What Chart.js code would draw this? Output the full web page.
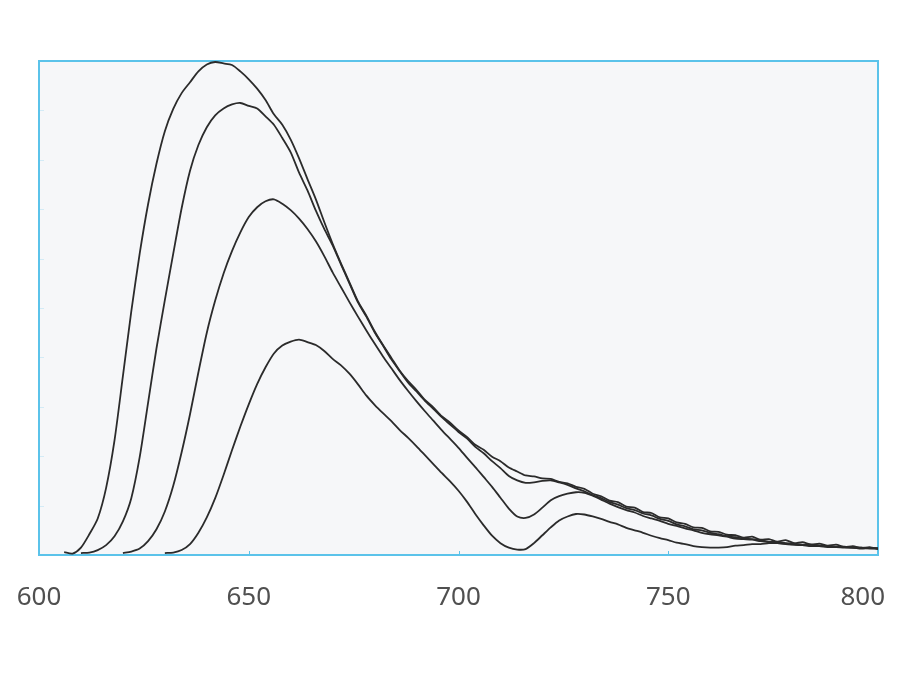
<!DOCTYPE html>
<html>
<head>
<meta charset="utf-8">
<script src="https://cdn.jsdelivr.net/npm/chart.js@4.4.1/dist/chart.umd.min.js"></script>
<style>
  html, body { margin: 0; background: #ffffff; }
</style>
</head>
<body>
<canvas id="spectraChart" width="900" height="700"></canvas>
<script>
// wavelength (nm), one sample every 2 nm
var wavelengths = [
  600, 602, 604, 606, 608, 610, 612, 614, 616, 618,
  620, 622, 624, 626, 628, 630, 632, 634, 636, 638,
  640, 642, 644, 646, 648, 650, 652, 654, 656, 658,
  660, 662, 664, 666, 668, 670, 672, 674, 676, 678,
  680, 682, 684, 686, 688, 690, 692, 694, 696, 698,
  700, 702, 704, 706, 708, 710, 712, 714, 716, 718,
  720, 722, 724, 726, 728, 730, 732, 734, 736, 738,
  740, 742, 744, 746, 748, 750, 752, 754, 756, 758,
  760, 762, 764, 766, 768, 770, 772, 774, 776, 778,
  780, 782, 784, 786, 788, 790, 792, 794, 796, 798,
  800
];

var spectrum1 = [
  null, null, null, 0.06, 0.03, 0.15, 0.42, 0.74, 1.36, 2.32,
  3.62, 4.93, 6.1, 7.1, 7.92, 8.58, 9.03, 9.35, 9.57, 9.79,
  9.93, 9.98, 9.95, 9.92, 9.79, 9.63, 9.44, 9.21, 8.92, 8.71,
  8.41, 8.03, 7.61, 7.2, 6.74, 6.3, 5.9, 5.52, 5.14, 4.85,
  4.53, 4.25, 3.99, 3.73, 3.52, 3.34, 3.14, 2.99, 2.81, 2.68,
  2.52, 2.39, 2.23, 2.13, 1.99, 1.9, 1.77, 1.69, 1.61, 1.59,
  1.55, 1.54, 1.48, 1.45, 1.38, 1.34, 1.24, 1.19, 1.1, 1.07,
  0.98, 0.96, 0.87, 0.85, 0.76, 0.74, 0.66, 0.63, 0.56, 0.55,
  0.48, 0.47, 0.41, 0.4, 0.35, 0.37, 0.31, 0.32, 0.27, 0.3,
  0.24, 0.26, 0.21, 0.23, 0.19, 0.21, 0.16, 0.18, 0.14, 0.16,
  0.12
];

var spectrum2 = [
  null, null, null, null, null, 0.04, 0.05, 0.1, 0.2, 0.38,
  0.68, 1.15, 1.98, 3.08, 4.18, 5.16, 6.1, 7.02, 7.78, 8.3,
  8.66, 8.9, 9.04, 9.12, 9.15, 9.09, 9.04, 8.88, 8.71, 8.44,
  8.15, 7.74, 7.38, 6.97, 6.6, 6.27, 5.88, 5.5, 5.12, 4.83,
  4.51, 4.24, 3.96, 3.72, 3.49, 3.31, 3.12, 2.96, 2.79, 2.64,
  2.49, 2.36, 2.19, 2.06, 1.9, 1.76, 1.6, 1.51, 1.46, 1.47,
  1.5, 1.51, 1.47, 1.42, 1.35, 1.29, 1.21, 1.15, 1.07, 1.02,
  0.95, 0.91, 0.84, 0.8, 0.73, 0.69, 0.62, 0.58, 0.52, 0.5,
  0.45, 0.42, 0.38, 0.36, 0.33, 0.32, 0.3, 0.27, 0.26, 0.24,
  0.23, 0.21, 0.21, 0.19, 0.18, 0.17, 0.16, 0.15, 0.15, 0.13,
  0.13
];

var spectrum3 = [
  null, null, null, null, null, null, null, null, null, null,
  0.04, 0.07, 0.13, 0.28, 0.52, 0.88, 1.4, 2.08, 2.85, 3.7,
  4.5, 5.15, 5.7, 6.15, 6.53, 6.84, 7.04, 7.16, 7.2, 7.11,
  6.98, 6.81, 6.6, 6.35, 6.05, 5.72, 5.42, 5.12, 4.83, 4.55,
  4.28, 4.02, 3.78, 3.54, 3.32, 3.11, 2.91, 2.72, 2.53, 2.35,
  2.17, 1.97, 1.78, 1.58, 1.38, 1.16, 0.94, 0.78, 0.75, 0.82,
  0.96, 1.11, 1.19, 1.24, 1.27, 1.26, 1.2, 1.12, 1.04, 0.97,
  0.91, 0.86, 0.79, 0.74, 0.69, 0.63, 0.59, 0.54, 0.5, 0.45,
  0.42, 0.4, 0.37, 0.33, 0.32, 0.31, 0.28, 0.26, 0.24, 0.22,
  0.21, 0.2, 0.18, 0.18, 0.16, 0.16, 0.15, 0.15, 0.13, 0.14,
  0.13
];

var spectrum4 = [
  null, null, null, null, null, null, null, null, null, null,
  null, null, null, null, null, 0.04, 0.05, 0.1, 0.22, 0.45,
  0.76, 1.15, 1.62, 2.12, 2.6, 3.05, 3.46, 3.8, 4.08, 4.24,
  4.32, 4.36, 4.31, 4.25, 4.13, 3.97, 3.84, 3.67, 3.46, 3.23,
  3.04, 2.87, 2.71, 2.53, 2.37, 2.2, 2.02, 1.84, 1.66, 1.49,
  1.3, 1.08, 0.83, 0.6, 0.39, 0.24, 0.15, 0.11, 0.12, 0.24,
  0.4, 0.56, 0.7, 0.78, 0.83, 0.82, 0.78, 0.73, 0.67, 0.62,
  0.55, 0.5, 0.45, 0.39, 0.34, 0.3, 0.25, 0.22, 0.18, 0.16,
  0.15, 0.15, 0.16, 0.19, 0.2, 0.22, 0.22, 0.24, 0.24, 0.23,
  0.21, 0.2, 0.21, 0.19, 0.17, 0.16, 0.17, 0.15, 0.15, 0.14,
  0.14
];

var xTickValues = [600, 650, 700, 750, 800];
var yTickValues = [1, 2, 3, 4, 5, 6, 7, 8, 9];

var lineColor = '#2b2b2b';
var frameColor = '#5bc3ea';

function toPoints(values) {
  return wavelengths.map(function (w, i) { return { x: w, y: values[i] }; });
}

function lineSet(values) {
  return {
    data: toPoints(values),
    borderColor: lineColor,
    borderWidth: 1.8,
    pointRadius: 0,
    tension: 0.25,
    fill: false
  };
}

// light grey plot area behind the curves, blue frame and the small inner ticks
var plotFrame = {
  id: 'plotFrame',
  beforeDatasetsDraw: function (chart) {
    var ctx = chart.ctx, a = chart.chartArea;
    var xs = chart.scales.x, ys = chart.scales.y;
    ctx.save();
    ctx.fillStyle = '#f6f7f9';
    ctx.fillRect(a.left, a.top, a.right - a.left, a.bottom - a.top);

    ctx.strokeStyle = '#d3ebf6';
    ctx.lineWidth = 1;
    yTickValues.forEach(function (v) {
      var py = Math.round(ys.getPixelForValue(v)) + 0.5;
      ctx.beginPath();
      ctx.moveTo(a.left, py);
      ctx.lineTo(a.left + 5, py);
      ctx.stroke();
    });

    ctx.strokeStyle = frameColor;
    xTickValues.slice(1, -1).forEach(function (v) {
      var px = Math.round(xs.getPixelForValue(v)) + 0.5;
      ctx.beginPath();
      ctx.moveTo(px, a.bottom);
      ctx.lineTo(px, a.bottom - 4);
      ctx.stroke();
    });

    ctx.lineWidth = 2;
    ctx.strokeRect(a.left, a.top, a.right - a.left, a.bottom - a.top);
    ctx.restore();
  },
  afterDraw: function (chart) {
    var ctx = chart.ctx, a = chart.chartArea, xs = chart.scales.x;
    ctx.save();
    ctx.font = '26px "Noto Sans", sans-serif';
    ctx.fillStyle = '#505050';
    ctx.textAlign = 'center';
    ctx.textBaseline = 'middle';
    xTickValues.forEach(function (v) {
      var label = String(v);
      var half = ctx.measureText(label).width / 2;
      var px = xs.getPixelForValue(v);
      px = Math.min(px, chart.width - half - 15);
      ctx.fillText(label, px, a.bottom + 43);
    });
    ctx.restore();
  }
};

var ctx = document.getElementById('spectraChart').getContext('2d');

var spectraChart = new Chart(ctx, {
  type: 'line',
  data: {
    datasets: [
      lineSet(spectrum1),
      lineSet(spectrum2),
      lineSet(spectrum3),
      lineSet(spectrum4)
    ]
  },
  options: {
    responsive: false,
    animation: false,
    layout: { padding: { left: 39, right: 22, top: 61, bottom: 145 } },
    plugins: { legend: { display: false }, tooltip: { enabled: false } },
    scales: {
      x: { type: 'linear', min: 600, max: 800, display: false },
      y: { min: 0, max: 10, display: false }
    }
  },
  plugins: [plotFrame]
});
</script>
</body>
</html>
